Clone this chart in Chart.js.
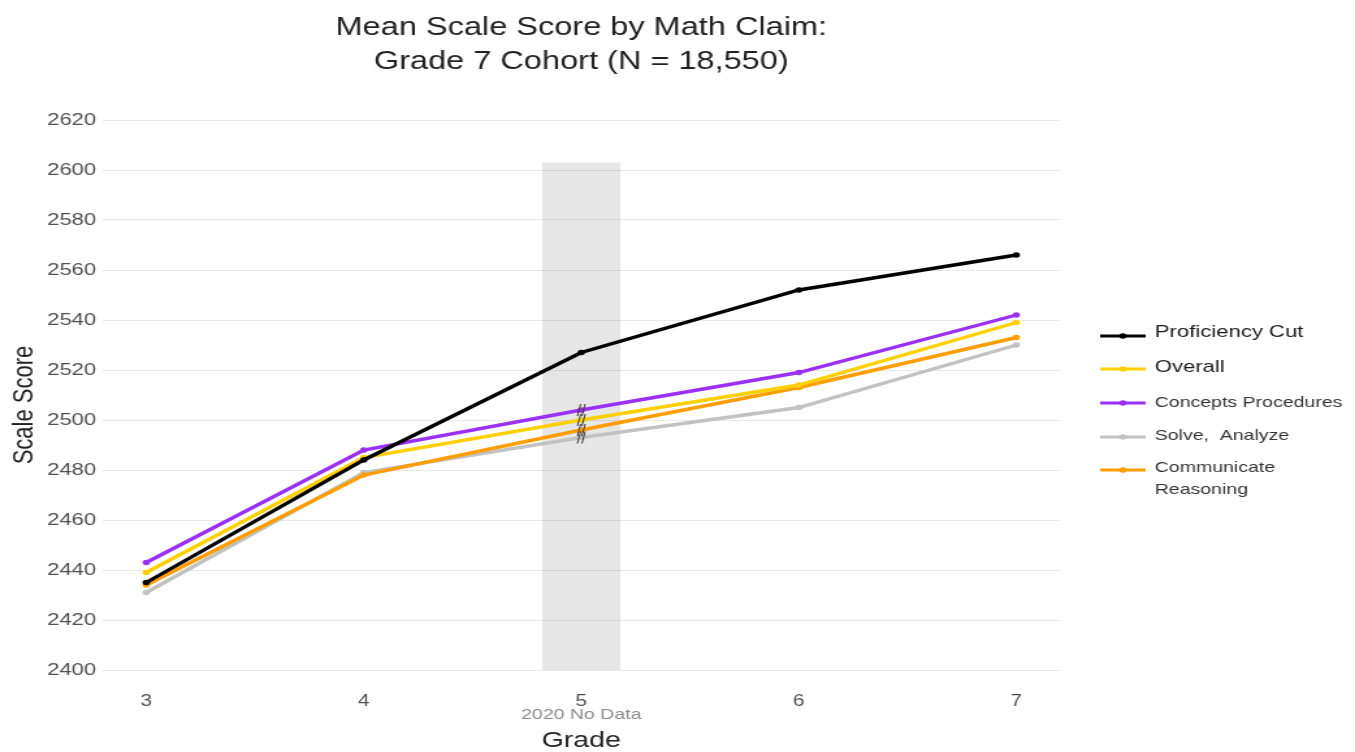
<!DOCTYPE html>
<html><head><meta charset="utf-8">
<script src="https://cdn.jsdelivr.net/npm/chart.js@4.4.1/dist/chart.umd.min.js"></script>
<style>
html,body{margin:0;padding:0;background:#fff;overflow:hidden;width:1355px;height:752px;}
#wrap{position:absolute;left:0;top:0;width:1042px;height:752px;transform:scaleX(1.3004);transform-origin:0 0;}
canvas{display:block;}
</style></head><body>
<div id="wrap"><canvas id="c" width="1042" height="752"></canvas></div>
<script>
// ---- data ----
const grades = [3, 4, 5, 6, 7];
const gradeTickLabels = ['3', '4', '5', '6', '7'];
const proficiencyCut = [2435, 2484, 2527, 2552, 2566];
const overall = [2439, 2485, 2500, 2514, 2539];
const conceptsProcedures = [2443, 2488, 2504, 2519, 2542];
const solveAnalyze = [2431, 2479, 2493, 2505, 2530];
const communicateReasoning = [2434, 2478, 2496, 2513, 2533];
const seriesNames = ['Proficiency Cut', 'Overall', 'Concepts Procedures', 'Solve,  Analyze', 'Communicate Reasoning'];
const yMin = 2400, yMax = 2620, yStep = 20;
const noDataGrade = 5;
const noDataLabel = '2020 No Data';
const noDataBand = [4.82, 5.18];
const noDataBandTop = 2603;
const titleLines = ['Mean Scale Score by Math Claim:', 'Grade 7 Cohort (N = 18,550)'];
const xTitle = 'Grade';
const yTitle = 'Scale Score';

const FONT = '"Liberation Sans", Arial, Helvetica, sans-serif';
const colors = ['#000000', '#FFD000', '#9B30F5', '#C2C2C2', '#FF9E00'];
const seriesValues = [proficiencyCut, overall, conceptsProcedures, solveAnalyze, communicateReasoning];
const drawOrder = [0, 2, 1, 4, 3];

const datasets = seriesValues.map((vals, i) => ({
  label: seriesNames[i],
  data: grades.map((g, j) => ({x: g, y: vals[j]})),
  borderColor: colors[i],
  backgroundColor: colors[i],
  borderWidth: 3.4,
  pointRadius: 2.8,
  pointHoverRadius: 2.8,
  pointBorderWidth: 0,
  tension: 0,
  order: drawOrder[i]
}));

const decor = {
  id: 'decor',
  beforeDraw(chart) {
    const {ctx, scales: {x, y}} = chart;
    ctx.save();
    ctx.fillStyle = '#e6e6e6';
    const x0 = x.getPixelForValue(noDataBand[0]), x1 = x.getPixelForValue(noDataBand[1]);
    const y0 = y.getPixelForValue(noDataBandTop), y1 = y.getPixelForValue(yMin);
    ctx.fillRect(x0, y0, x1 - x0, y1 - y0);
    ctx.restore();
  },
  afterDraw(chart) {
    const {ctx, chartArea, scales: {x, y}} = chart;
    ctx.save();
    // break marks at no-data grade
    ctx.strokeStyle = '#3a3a3a';
    ctx.lineWidth = 1;
    const bx = x.getPixelForValue(noDataGrade);
    [1, 2, 3, 4].forEach(i => {
      const by = y.getPixelForValue(seriesValues[i][grades.indexOf(noDataGrade)]);
      ctx.beginPath();
      ctx.moveTo(bx - 3, by + 6); ctx.lineTo(bx - 0.5, by - 6);
      ctx.moveTo(bx + 0.5, by + 6); ctx.lineTo(bx + 3, by - 6);
      ctx.stroke();
    });
    // title
    const cx = (chartArea.left + chartArea.right) / 2;
    ctx.fillStyle = '#222';
    ctx.textAlign = 'center';
    ctx.textBaseline = 'middle';
    ctx.font = '25px ' + FONT;
    ctx.fillText(titleLines[0], cx, 28);
    ctx.fillText(titleLines[1], cx, 62);
    // no data label
    ctx.font = '15px ' + FONT;
    ctx.fillStyle = '#8a8a8a';
    ctx.fillText(noDataLabel, bx, 715);
    // axis titles
    ctx.font = '22px ' + FONT;
    ctx.fillStyle = '#222';
    ctx.fillText(xTitle, cx, 741);
    ctx.save();
    ctx.translate(19, 405);
    ctx.rotate(-Math.PI / 2);
    ctx.fillText(yTitle, 0, 0);
    ctx.restore();
    // legend
    const lx0 = 846, lx1 = 881, tx = 888;
    const rows = [
      {i: 0, ly: 336, lines: [[seriesNames[0], 332]], size: 17},
      {i: 1, ly: 369, lines: [[seriesNames[1], 367]], size: 17},
      {i: 2, ly: 403, lines: [[seriesNames[2], 403]], size: 15},
      {i: 3, ly: 437, lines: [[seriesNames[3], 436]], size: 15},
      {i: 4, ly: 470, lines: [['Communicate', 468], ['Reasoning', 490]], size: 15}
    ];
    ctx.textAlign = 'left';
    rows.forEach(r => {
      ctx.strokeStyle = colors[r.i];
      ctx.lineWidth = 3;
      ctx.beginPath(); ctx.moveTo(lx0, r.ly); ctx.lineTo(lx1, r.ly); ctx.stroke();
      ctx.fillStyle = colors[r.i];
      ctx.beginPath(); ctx.arc((lx0 + lx1) / 2, r.ly, 2.8, 0, Math.PI * 2); ctx.fill();
      ctx.fillStyle = r.size === 17 ? '#1a1a1a' : '#333';
      ctx.font = r.size + 'px ' + FONT;
      r.lines.forEach(([t, yy]) => ctx.fillText(t, tx, yy));
    });
    ctx.restore();
  }
};

new Chart(document.getElementById('c'), {
  type: 'line',
  data: {datasets},
  options: {
    responsive: false,
    animation: false,
    events: [],
    layout: {padding: {top: 120, right: 227, bottom: 42, left: 0}},
    plugins: {legend: {display: false}, title: {display: false}, tooltip: {enabled: false}},
    scales: {
      x: {
        type: 'linear', min: 2.8, max: 7.2,
        grid: {display: false}, border: {display: false},
        afterBuildTicks: s => { s.ticks = grades.map(v => ({value: v})); },
        afterFit: s => { s.height = 40; },
        ticks: {
          padding: 14, color: '#505050', font: {size: 16, family: FONT},
          callback: v => gradeTickLabels[grades.indexOf(v)]
        }
      },
      y: {
        min: yMin, max: yMax,
        grid: {color: 'rgba(0,0,0,0.085)', lineWidth: 1, drawTicks: false},
        border: {display: false},
        afterFit: s => { s.width = 79; },
        ticks: {
          stepSize: yStep, padding: 5, color: '#505050', font: {size: 17, family: FONT},
          callback: v => String(v)
        }
      }
    }
  },
  plugins: [decor]
});
</script>
</body></html>
